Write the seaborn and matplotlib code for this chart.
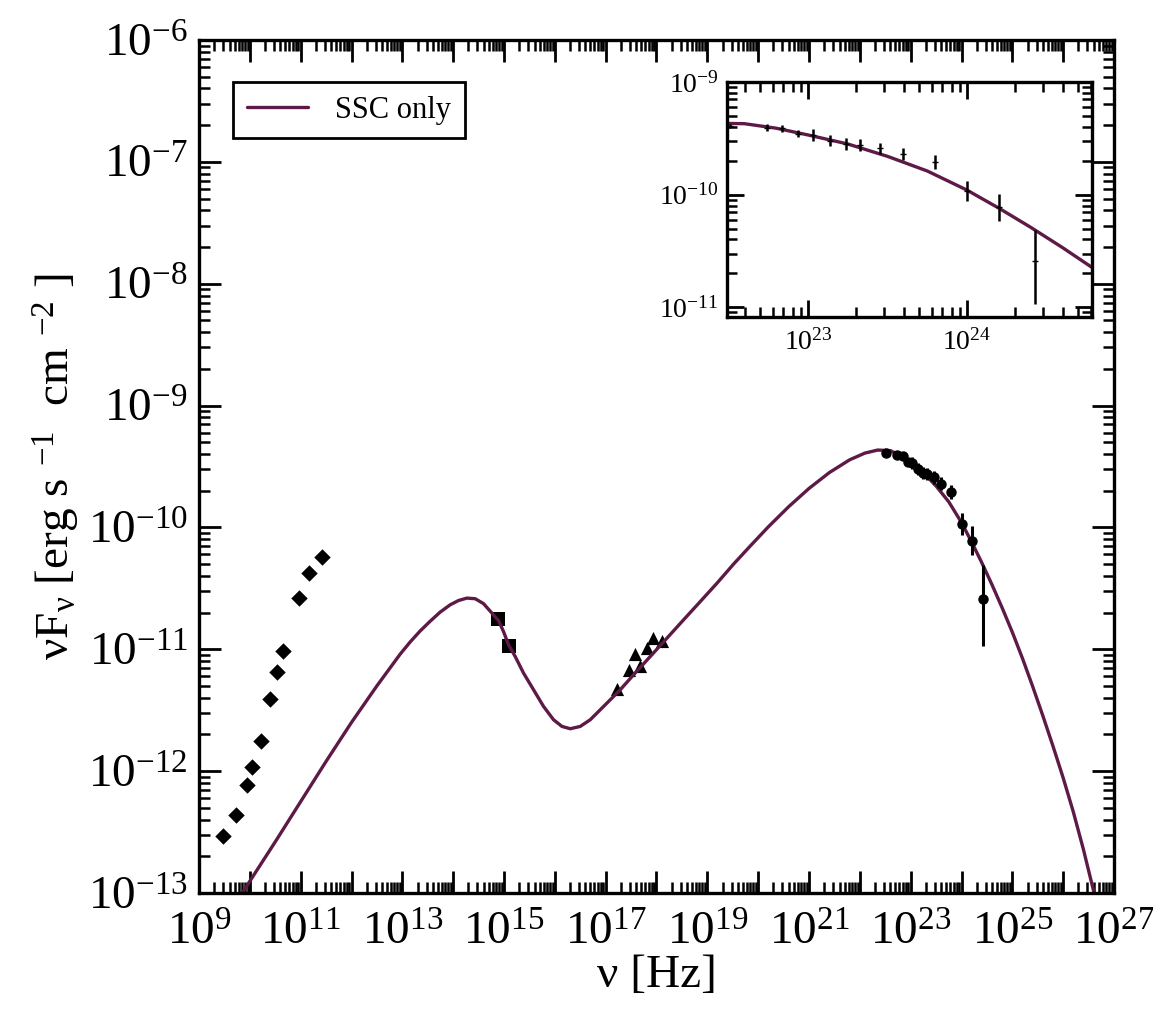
import numpy as np
import pandas as pd
import matplotlib
matplotlib.use("Agg")
import matplotlib.pyplot as plt
import matplotlib.ticker as mticker
import seaborn as sns

# ---------------- data (log10 values) ----------------
model_log_nu = [9.85, 10.50, 11.00, 11.50, 12.00, 12.50, 12.957, 13.154, 13.350, 13.547,
                13.744, 13.941, 14.104, 14.270, 14.433, 14.596, 14.762, 14.892, 14.990, 15.089,
                15.220, 15.384, 15.581, 15.778, 15.974, 16.140, 16.303, 16.500, 16.697, 16.894,
                17.091, 17.287, 17.549, 17.878, 18.207, 18.533, 18.862, 19.191, 19.518, 19.85,
                20.20, 20.60, 21.00, 21.40, 21.80, 22.10, 22.35, 22.60, 22.80, 23.00,
                23.25, 23.50, 23.75, 24.00, 24.20, 24.40, 24.60, 24.80, 25.00, 25.20,
                25.40, 25.60, 25.80, 26.00, 26.20, 26.40, 26.62]
model_log_flux = [-13.00, -12.58, -12.25, -11.92, -11.60, -11.30, -11.04, -10.94, -10.85, -10.77,
                  -10.695, -10.635, -10.60, -10.58, -10.585, -10.625, -10.703, -10.765, -10.854, -10.963,
                  -11.059, -11.195, -11.332, -11.469, -11.578, -11.633, -11.652, -11.633, -11.578, -11.496,
                  -11.414, -11.332, -11.209, -11.059, -10.908, -10.758, -10.608, -10.457, -10.30, -10.15,
                  -9.995, -9.83, -9.68, -9.55, -9.445, -9.39, -9.365, -9.37, -9.41, -9.47,
                  -9.55, -9.66, -9.79, -9.96, -10.12, -10.29, -10.47, -10.66, -10.86, -11.075,
                  -11.305, -11.545, -11.795, -12.055, -12.335, -12.645, -13.02]

radio_log_nu = [9.47, 9.73, 9.94, 10.04, 10.22, 10.40, 10.54, 10.66, 10.97, 11.17, 11.42]
radio_log_flux = [-12.53, -12.36, -12.11, -11.97, -11.75, -11.41, -11.19, -11.01, -10.58, -10.37, -10.24]

optical_log_nu = [14.89, 15.10]
optical_log_flux = [-10.75, -10.97]

xray_log_nu = [17.23, 17.46, 17.58, 17.68, 17.82, 17.94, 18.11]
xray_log_flux = [-11.33, -11.17, -11.04, -11.14, -10.99, -10.91, -10.93]

gamma_log_nu = [22.51, 22.74, 22.84, 22.94, 23.03, 23.14, 23.24, 23.33, 23.45, 23.60,
                23.80, 24.00, 24.20, 24.43]
gamma_log_flux = [-9.39, -9.405, -9.41, -9.46, -9.47, -9.52, -9.55, -9.56, -9.59, -9.64,
                  -9.71, -9.97, -10.11, -10.59]
gamma_err_up = [0.02, 0.03, 0.03, 0.03, 0.05, 0.05, 0.05, 0.05, 0.05, 0.05,
                0.06, 0.09, 0.12, 0.28]
gamma_err_dn = [0.02, 0.03, 0.03, 0.03, 0.05, 0.05, 0.05, 0.05, 0.05, 0.05,
                0.06, 0.09, 0.12, 0.38]

legend_label = "SSC only"
x_label = "ν [Hz]"
y_label = r"νF$_\mathregular{ν}$ [erg s $^\mathregular{-1}$  cm $^\mathregular{-2}$ ]"

# ---------------- build tables ----------------
model = pd.DataFrame({"nu": 10.0 ** np.array(model_log_nu),
                      "flux": 10.0 ** np.array(model_log_flux)})
radio = pd.DataFrame({"nu": 10.0 ** np.array(radio_log_nu),
                      "flux": 10.0 ** np.array(radio_log_flux)})
optical = pd.DataFrame({"nu": 10.0 ** np.array(optical_log_nu),
                        "flux": 10.0 ** np.array(optical_log_flux)})
xray = pd.DataFrame({"nu": 10.0 ** np.array(xray_log_nu),
                     "flux": 10.0 ** np.array(xray_log_flux)})
g_flux = 10.0 ** np.array(gamma_log_flux)
gamma = pd.DataFrame({"nu": 10.0 ** np.array(gamma_log_nu), "flux": g_flux,
                      "lo": g_flux - 10.0 ** (np.array(gamma_log_flux) - np.array(gamma_err_dn)),
                      "hi": 10.0 ** (np.array(gamma_log_flux) + np.array(gamma_err_up)) - g_flux})

# ---------------- style ----------------
sns.set_theme(style="white")
plt.rcParams["font.family"] = ["Liberation Serif", "DejaVu Serif"]
plt.rcParams["mathtext.fontset"] = "custom"
plt.rcParams["mathtext.rm"] = "Liberation Serif"
plt.rcParams["mathtext.it"] = "Liberation Serif:italic"
plt.rcParams["mathtext.bf"] = "Liberation Serif:bold"
for k in ["text.color", "axes.labelcolor", "xtick.color", "ytick.color", "axes.edgecolor"]:
    plt.rcParams[k] = "black"

CURVE = "#5e1a47"

fig = plt.figure(figsize=(11.53, 10.24), dpi=100)
ax = fig.add_axes([199 / 1153, 131 / 1024, 915 / 1153, 853 / 1024])
ax.set_xscale("log")
ax.set_yscale("log")

sns.lineplot(data=model, x="nu", y="flux", ax=ax, color=CURVE, lw=2.4,
             estimator=None, sort=False, label=legend_label)
sns.scatterplot(data=radio, x="nu", y="flux", ax=ax, marker="D", s=70,
                color="black", edgecolor="black", linewidth=0, legend=False)
sns.scatterplot(data=optical, x="nu", y="flux", ax=ax, marker="s", s=110,
                color="black", edgecolor="black", linewidth=0, legend=False)
sns.scatterplot(data=xray, x="nu", y="flux", ax=ax, marker="^", s=90,
                color="black", edgecolor="black", linewidth=0, legend=False)
ax.errorbar(gamma["nu"], gamma["flux"], yerr=[gamma["lo"], gamma["hi"]],
            fmt="o", ms=6.5, color="black", ecolor="black", elinewidth=2.2, capsize=0)

ax.set_xlim(1e9, 1e27)
ax.set_ylim(1e-13, 1e-6)


def odd_fmt(v, pos):
    e = int(round(np.log10(v)))
    return r"$\mathregular{10^{%d}}$" % e if e % 2 == 1 else ""


def dec_fmt(v, pos):
    e = int(round(np.log10(v)))
    return r"$\mathregular{10^{%d}}$" % e


ax.xaxis.set_major_locator(mticker.LogLocator(base=10, numticks=40))
ax.xaxis.set_minor_locator(mticker.LogLocator(base=10, subs=np.arange(2, 10), numticks=40))
ax.xaxis.set_major_formatter(mticker.FuncFormatter(odd_fmt))
ax.xaxis.set_minor_formatter(mticker.NullFormatter())
ax.yaxis.set_major_locator(mticker.LogLocator(base=10, numticks=40))
ax.yaxis.set_minor_locator(mticker.LogLocator(base=10, subs=np.arange(2, 10), numticks=40))
ax.yaxis.set_major_formatter(mticker.FuncFormatter(dec_fmt))
ax.yaxis.set_minor_formatter(mticker.NullFormatter())

ax.tick_params(which="both", direction="in", top=True, right=True, bottom=True, left=True,
               color="black", labelcolor="black")
ax.tick_params(which="major", length=16, width=2.0, labelsize=34)
ax.tick_params(axis="x", which="major", pad=14)
ax.tick_params(axis="y", which="major", pad=8)
ax.tick_params(which="minor", length=8, width=1.8)
for s in ax.spines.values():
    s.set_linewidth(2.4)
    s.set_color("black")

ax.set_xlabel(x_label, fontsize=34, labelpad=0)
ax.set_ylabel(y_label, fontsize=34, labelpad=4)

leg = ax.legend(loc="upper left", bbox_to_anchor=(0.037, 0.951), borderaxespad=0,
                fontsize=22, frameon=True, fancybox=False, handlelength=2.0,
                handletextpad=0.9, borderpad=0.45)
leg.get_frame().set_edgecolor("black")
leg.get_frame().set_linewidth(2.0)
leg.get_frame().set_facecolor("white")
leg.get_frame().set_alpha(1)

# ---------------- inset ----------------
ins = fig.add_axes([727 / 1153, 707 / 1024, 365 / 1153, 235 / 1024])
ins.set_xscale("log")
ins.set_yscale("log")
sns.lineplot(data=model, x="nu", y="flux", ax=ins, color=CURVE, lw=2.4,
             estimator=None, sort=False, legend=False)
ins.errorbar(gamma["nu"], gamma["flux"], yerr=[gamma["lo"], gamma["hi"]],
             fmt="_", ms=5, color="black", ecolor="black", elinewidth=1.8, capsize=0)
ins.set_xlim(3.1e22, 6.1e24)
ins.set_ylim(8.2e-12, 1.0e-9)
ins.xaxis.set_major_locator(mticker.LogLocator(base=10, numticks=20))
ins.xaxis.set_minor_locator(mticker.LogLocator(base=10, subs=np.arange(2, 10), numticks=20))
ins.xaxis.set_major_formatter(mticker.FuncFormatter(dec_fmt))
ins.xaxis.set_minor_formatter(mticker.NullFormatter())
ins.yaxis.set_major_locator(mticker.LogLocator(base=10, numticks=20))
ins.yaxis.set_minor_locator(mticker.LogLocator(base=10, subs=np.arange(2, 10), numticks=20))
ins.yaxis.set_major_formatter(mticker.FuncFormatter(dec_fmt))
ins.yaxis.set_minor_formatter(mticker.NullFormatter())
ins.tick_params(which="both", direction="in", top=True, right=True, bottom=True, left=True,
                color="black", labelcolor="black")
ins.tick_params(which="major", length=12, width=2.0, labelsize=20)
ins.tick_params(axis="x", which="major", pad=9)
ins.tick_params(axis="y", which="major", pad=6)
ins.tick_params(which="minor", length=7, width=1.8)
for s in ins.spines.values():
    s.set_linewidth(2.4)
    s.set_color("black")
ins.set_xlabel("")
ins.set_ylabel("")

fig.savefig("out.png", dpi=100)
